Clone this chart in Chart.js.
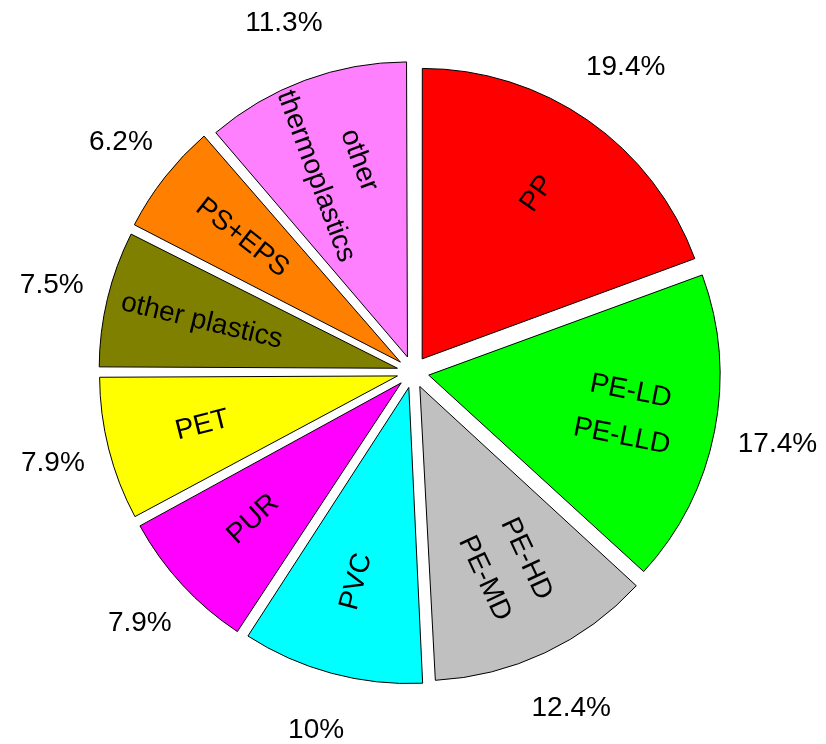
<!DOCTYPE html>
<html>
<head>
<meta charset="utf-8">
<script src="https://cdn.jsdelivr.net/npm/chart.js@4"></script>
<style>
  html, body { margin: 0; padding: 0; background: #fff; }
  #wrap { width: 826px; height: 744px; }
</style>
</head>
<body>
<div id="wrap"><canvas id="c"></canvas></div>
<script>
const categories = ['PP', 'PE-LD|PE-LLD', 'PE-HD|PE-MD', 'PVC', 'PUR', 'PET', 'other plastics', 'PS+EPS', 'other|thermoplastics'];
const shares = [19.4, 17.4, 12.4, 10, 7.9, 7.9, 7.5, 6.2, 11.3];
const shareLabels = ['19.4%', '17.4%', '12.4%', '10%', '7.9%', '7.9%', '7.5%', '6.2%', '11.3%'];
const colors = ['#ff0000', '#00ff00', '#c0c0c0', '#00ffff', '#ff00ff', '#ffff00', '#808000', '#ff8000', '#ff80ff'];

const FONT = '28px "Liberation Sans", Arial, sans-serif';

const labelPlugin = {
    id: 'sliceLabels',
    afterDatasetsDraw(chart) {
        const ctx = chart.ctx;
        const meta = chart.getDatasetMeta(0);
        meta.data.forEach((arc, i) => {
            const p = arc.getProps(['x', 'y', 'startAngle', 'endAngle', 'outerRadius']);
            const mid = (p.startAngle + p.endAngle) / 2;
            const off = (arc.options.offset || 0) / 2;
            const r = p.outerRadius;
            const cx = p.x, cy = p.y;
            // inside label, rotated along the radius
            const ri = r * 0.64 + off;
            const lx = cx + Math.cos(mid) * ri;
            const ly = cy + Math.sin(mid) * ri;
            const fromTop = mid + Math.PI / 2;
            const rot = fromTop < Math.PI ? mid : mid + Math.PI;
            const lines = categories[i].split('|');
            ctx.save();
            ctx.translate(lx, ly);
            ctx.rotate(rot);
            ctx.font = FONT;
            ctx.fillStyle = '#000';
            ctx.textAlign = 'center';
            ctx.textBaseline = 'middle';
            const lh = 46;
            lines.forEach((t, k) => {
                ctx.fillText(t, 0, (k - (lines.length - 1) / 2) * lh);
            });
            ctx.restore();
            // outside percentage
            const ro = r + off + 50;
            ctx.save();
            ctx.font = FONT;
            ctx.fillStyle = '#000';
            ctx.textAlign = 'center';
            ctx.textBaseline = 'middle';
            ctx.fillText(shareLabels[i], cx + Math.cos(mid) * ro, cy + Math.sin(mid) * ro);
            ctx.restore();
        });
    }
};

new Chart(document.getElementById('c'), {
    type: 'pie',
    data: {
        labels: categories,
        datasets: [{
            data: shares,
            backgroundColor: colors,
            borderColor: '#000',
            borderWidth: 1,
            offset: 64,
        }]
    },
    options: {
        responsive: true,
        maintainAspectRatio: false,
        animation: false,
        layout: { padding: { top: 50, bottom: 50, left: 50, right: 50 } },
        plugins: {
            legend: { display: false },
            tooltip: { enabled: false }
        }
    },
    plugins: [labelPlugin]
});
</script>
</body>
</html>
